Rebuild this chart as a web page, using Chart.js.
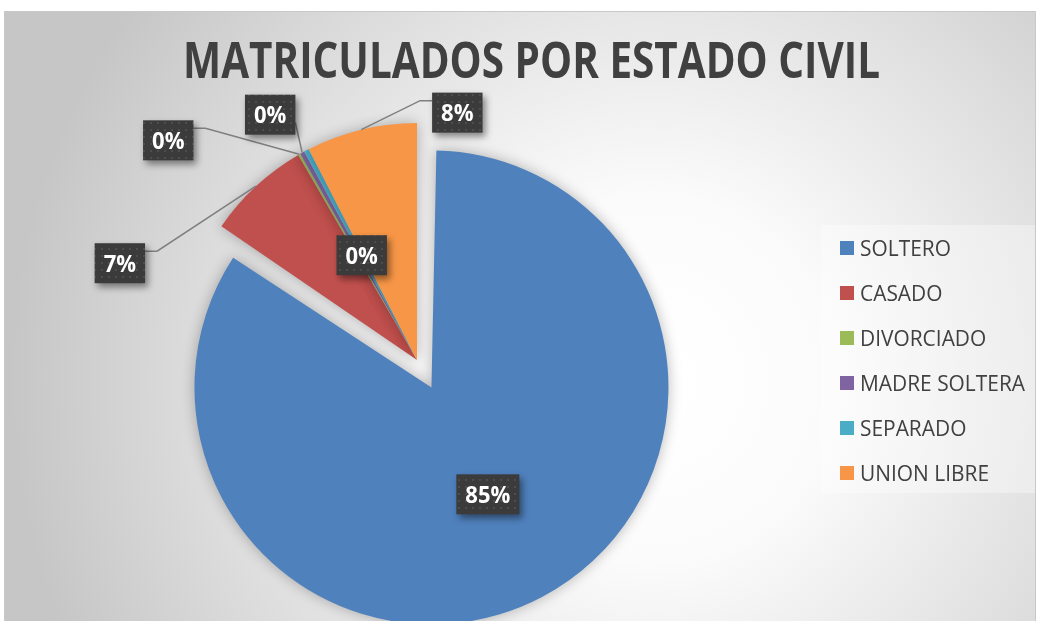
<!DOCTYPE html>
<html>
<head>
<meta charset="utf-8">
<title>Matriculados por estado civil</title>
<script src="https://cdn.jsdelivr.net/npm/chart.js@4.4.0/dist/chart.umd.min.js"></script>
<style>
    html, body { margin: 0; padding: 0; background: #fff; }
    canvas { display: block; }
</style>
</head>
<body>
<canvas id="pieChart" width="1039" height="621"></canvas>
<script>
"use strict";

// data
const categories = ['SOLTERO', 'CASADO', 'DIVORCIADO', 'MADRE SOLTERA', 'SEPARADO', 'UNION LIBRE'];
const shares = [84.55, 7.1, 0.15, 0.3, 0.35, 7.55];
const chartTitle = 'MATRICULADOS POR ESTADO CIVIL';

// styles
const sliceColors = ['#4f81bd', '#c0504d', '#9bbb59', '#8064a2', '#4bacc6', '#f79646'];
const explode = [124, 0, 0, 0, 0, 0];
const textColor = '#404040';
const fontFamily = '"Open Sans", "Noto Sans", sans-serif';

// where each data label sits: inside = fraction of radius, otherwise box offset from slice edge
const labelLayout = [
    { inside: 0.51 },
    { dx: -136, dy: 77, leader: 'right' },
    { dx: -131, dy: -14, leader: 'right' },
    { dx: -32, dy: -38, leader: 'direct' },
    { inside: 0.5 },
    { dx: 96, dy: -17, leader: 'left' }
];

/**
 * Skriver text som trycks ihop horisontellt till en viss bredd
 */
function drawFitted(ctx, text, x, y, scale, align) {
    const w = ctx.measureText(text).width * scale;
    let left = x;
    if (align === 'center') left = x - w / 2;
    ctx.save();
    ctx.translate(left, y);
    ctx.scale(scale, 1);
    ctx.textAlign = 'left';
    ctx.fillText(text, 0, 0);
    ctx.restore();
    return w;
}

function makeDotPattern(ctx) {
    const tile = document.createElement('canvas');
    tile.width = 7;
    tile.height = 7;
    const t = tile.getContext('2d');
    t.fillStyle = '#3b3b3b';
    t.fillRect(0, 0, 7, 7);
    t.fillStyle = '#4d4d4d';
    t.fillRect(3, 3, 2, 2);
    return ctx.createPattern(tile, 'repeat');
}

const backgroundPlugin = {
    id: 'frameBackground',
    beforeDraw(chart) {
        const ctx = chart.ctx;
        ctx.save();
        ctx.fillStyle = '#ffffff';
        ctx.fillRect(0, 0, chart.width, chart.height);
        const g = ctx.createRadialGradient(650, 380, 30, 650, 380, 640);
        g.addColorStop(0, '#ffffff');
        g.addColorStop(0.25, '#fbfbfb');
        g.addColorStop(0.7, '#dcdcdc');
        g.addColorStop(1, '#c6c6c6');
        ctx.fillStyle = g;
        ctx.fillRect(4, 11, 1032, 620);
        ctx.strokeStyle = '#c8c8c8';
        ctx.lineWidth = 1;
        ctx.strokeRect(4.5, 11.5, 1031, 620);
        ctx.restore();
    }
};

// Chart.js gör en utskjuten tårtbit större, Excel gör det inte: kompensera radien
const explodePlugin = {
    id: 'explodeFix',
    afterDatasetUpdate(chart, args) {
        chart.getDatasetMeta(args.index).data.forEach(arc => {
            const off = (arc.options.offset || 0) / 4;
            const fix = 1 - Math.sin(Math.min(Math.PI, arc.circumference || 0));
            arc.outerRadius -= off * fix;
        });
    }
};

const shadowPlugin = {
    id: 'pieShadow',
    beforeDatasetsDraw(chart) {
        const ctx = chart.ctx;
        ctx.save();
        ctx.shadowColor = 'rgba(0, 0, 0, 0.28)';
        ctx.shadowBlur = 14;
    },
    afterDatasetsDraw(chart) {
        chart.ctx.restore();
    }
};

const decorPlugin = {
    id: 'decor',
    afterDraw(chart) {
        const ctx = chart.ctx;
        const arcs = chart.getDatasetMeta(0).data;
        const total = shares.reduce((a, b) => a + b, 0);

        // titel
        ctx.save();
        ctx.fillStyle = textColor;
        ctx.font = 'bold 50px ' + fontFamily;
        const titleScale = 697 / ctx.measureText(chartTitle).width;
        drawFitted(ctx, chartTitle, 531.5, 78, titleScale, 'center');
        ctx.restore();

        // legend
        ctx.save();
        ctx.fillStyle = 'rgba(255, 255, 255, 0.35)';
        ctx.fillRect(821, 225, 214, 268);
        ctx.font = '21px ' + fontFamily;
        const legendScale = 165 / ctx.measureText('MADRE SOLTERA').width;
        categories.forEach((name, i) => {
            const rowY = 248 + i * 45;
            ctx.fillStyle = sliceColors[i];
            ctx.fillRect(840, rowY - 7, 14, 14);
            ctx.fillStyle = textColor;
            drawFitted(ctx, name, 860, rowY + 7.5, legendScale, 'left');
        });
        ctx.restore();

        // dataetiketter
        const pattern = makeDotPattern(ctx);
        ctx.save();
        ctx.font = 'bold 23px ' + fontFamily;
        const labelScale = 45 / ctx.measureText('85%').width;
        const boxes = arcs.map((arc, i) => {
            const off = (arc.options.offset || 0) / 4;
            const fix = 1 - Math.sin(Math.min(Math.PI, arc.circumference || 0));
            const mid = (arc.startAngle + arc.endAngle) / 2;
            const cx = arc.x + Math.cos(mid) * off;
            const cy = arc.y + Math.sin(mid) * off;
            const r = arc.outerRadius + off * fix;
            const text = Math.round(shares[i] / total * 100) + '%';
            const w = ctx.measureText(text).width * labelScale + 18;
            const lay = labelLayout[i];
            let bx, by;
            const edge = { x: cx + Math.cos(mid) * r, y: cy + Math.sin(mid) * r };
            if (lay.inside) {
                bx = cx + Math.cos(mid) * r * lay.inside;
                by = cy + Math.sin(mid) * r * lay.inside;
            } else {
                bx = edge.x + lay.dx;
                by = edge.y + lay.dy;
            }
            return { text, w, bx, by, edge, lay };
        });

        // ledarlinjer
        ctx.strokeStyle = '#7f7f7f';
        ctx.lineWidth = 1.5;
        boxes.forEach(b => {
            if (b.lay.inside) return;
            ctx.beginPath();
            ctx.moveTo(b.edge.x, b.edge.y);
            if (b.lay.leader === 'right') {
                ctx.lineTo(b.bx + b.w / 2 + 12, b.by - 12);
                ctx.lineTo(b.bx + b.w / 2, b.by - 12);
            } else if (b.lay.leader === 'left') {
                ctx.lineTo(b.bx - b.w / 2 - 12, b.by - 12);
                ctx.lineTo(b.bx - b.w / 2, b.by - 12);
            } else {
                ctx.lineTo(b.bx + b.w / 2, b.by + 8);
            }
            ctx.stroke();
        });

        boxes.forEach(b => {
            ctx.save();
            ctx.shadowColor = 'rgba(0, 0, 0, 0.45)';
            ctx.shadowBlur = 7;
            ctx.shadowOffsetX = 3;
            ctx.shadowOffsetY = 4;
            ctx.fillStyle = pattern;
            ctx.fillRect(b.bx - b.w / 2, b.by - 20, b.w, 40);
            ctx.restore();
            ctx.fillStyle = '#ffffff';
            drawFitted(ctx, b.text, b.bx, b.by + 8.5, labelScale, 'center');
        });
        ctx.restore();
    }
};

const ctx = document.getElementById('pieChart').getContext('2d');
new Chart(ctx, {
    type: 'pie',
    data: {
        labels: categories,
        datasets: [{
            data: shares,
            backgroundColor: sliceColors,
            borderWidth: 0,
            offset: explode
        }]
    },
    options: {
        responsive: false,
        animation: false,
        events: [],
        radius: 237,
        layout: {
            padding: { top: 120, bottom: 21, left: 0, right: 205 }
        },
        plugins: {
            legend: { display: false },
            title: { display: false },
            tooltip: { enabled: false }
        }
    },
    plugins: [backgroundPlugin, explodePlugin, shadowPlugin, decorPlugin]
});
</script>
</body>
</html>
